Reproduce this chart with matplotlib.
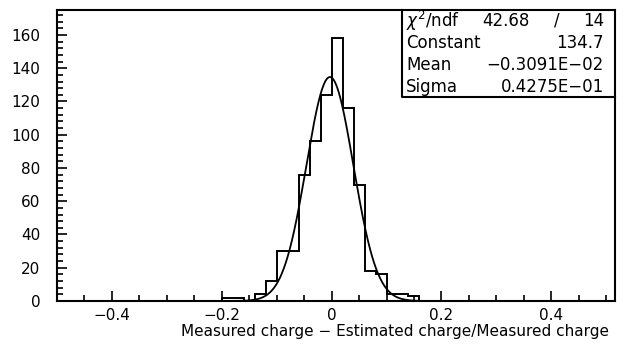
import numpy as np
import matplotlib
matplotlib.use("Agg")
import matplotlib.pyplot as plt
from matplotlib.ticker import MultipleLocator

# histogram contents (bin width 0.02)
edges = np.round(np.arange(-0.2, 0.17, 0.02), 2)
counts = [2, 2, 0, 4, 12, 30, 30, 76, 96, 124, 158, 116, 70, 18, 16, 4, 4, 3]

# gaussian fit results
fit_const = 134.7
fit_mean = -0.3091e-02
fit_sigma = 0.4275e-01
chi2, ndf = 42.68, 14

stat_names = ["Constant", "Mean", "Sigma"]
stat_values = ["134.7", "\u22120.3091E\u221202", "0.4275E\u221201"]

plt.rcParams['font.family'] = ['DejaVu Sans']
plt.rcParams['font.size'] = 11

fig = plt.figure(figsize=(6.27, 3.47), dpi=100)
ax = fig.add_axes([57/627, 1-301/347, 558/627, 291/347])

ax.stairs(counts, edges, color='black', lw=1.4)

xf = np.linspace(-0.2, 0.16, 400)
yf = fit_const*np.exp(-0.5*((xf-fit_mean)/fit_sigma)**2)
ax.plot(xf, yf, color='black', lw=1.3)

ax.set_xlim(-0.5, 0.516)
ax.set_ylim(0, 175)
ax.xaxis.set_major_locator(MultipleLocator(0.2))
ax.xaxis.set_minor_locator(MultipleLocator(0.05))
ax.yaxis.set_major_locator(MultipleLocator(20))
ax.yaxis.set_minor_locator(MultipleLocator(4))
ax.tick_params(which='both', direction='in', top=False, right=False, width=1.2)
ax.tick_params(which='major', length=7.5)
ax.tick_params(which='minor', length=4)
ax.tick_params(axis='y', pad=12)
ax.tick_params(axis='x', pad=5)
ax.xaxis.set_major_formatter(plt.FuncFormatter(
    lambda v, p: '0' if abs(v) < 1e-9 else ('%.1f' % v).replace('-', '\u2212')))
for s in ax.spines.values():
    s.set_linewidth(1.5)

ax.set_xlabel("Measured charge \u2212 Estimated charge/Measured charge",
              ha='right', x=0.99, labelpad=1)

# stats box
bx, by = (402-57)/558, (301-97)/291
ax.plot([bx, bx, 1], [1, by, by], color='black', lw=1.5,
        transform=ax.transAxes, clip_on=False)
rows = [(301-20.5)/291, (301-42.5)/291, (301-64.5)/291, (301-86.5)/291]
xl, xr = (406-57)/558, (604-57)/558
bs = 12
ax.text(xl, rows[0], r"$\chi^2$/ndf", transform=ax.transAxes, va='center', ha='left', fontsize=bs)
ax.text((530-57)/558, rows[0], "%.2f" % chi2, transform=ax.transAxes, va='center', ha='right', fontsize=bs)
ax.text((557-57)/558, rows[0], "/", transform=ax.transAxes, va='center', ha='center', fontsize=bs)
ax.text(xr, rows[0], "%d" % ndf, transform=ax.transAxes, va='center', ha='right', fontsize=bs)
for name, val, yy in zip(stat_names, stat_values, rows[1:]):
    ax.text(xl, yy, name, transform=ax.transAxes, va='center', ha='left', fontsize=bs)
    ax.text(xr, yy, val, transform=ax.transAxes, va='center', ha='right', fontsize=bs)

fig.savefig("out.png", dpi=100)
